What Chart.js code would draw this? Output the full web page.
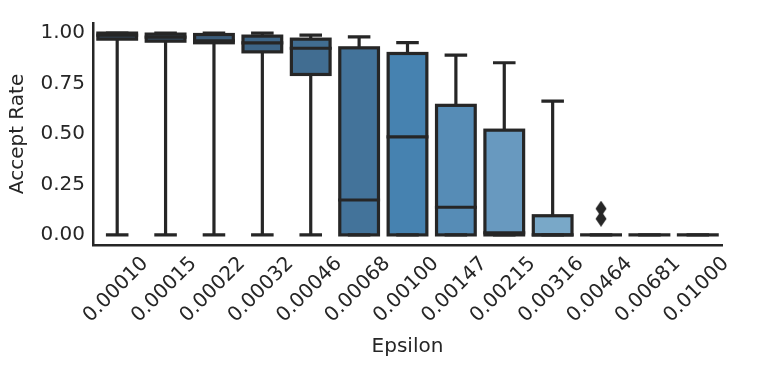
<!DOCTYPE html>
<html>
<head>
<meta charset="utf-8">
<script src="https://cdn.jsdelivr.net/npm/chart.js@4.4.0/dist/chart.umd.min.js"></script>
<style>
  html, body { margin: 0; padding: 0; background: #fff; }
</style>
</head>
<body>
<canvas id="chart" width="761" height="381"></canvas>
<script>
// valori (boxplot per epsilon)
const epsilons = ['0.00010', '0.00015', '0.00022', '0.00032', '0.00046', '0.00068', '0.00100',
                  '0.00147', '0.00215', '0.00316', '0.00464', '0.00681', '0.01000'];
const whiskerLow  = [0, 0, 0, 0, 0, 0, 0, 0, 0, 0, 0, 0, 0];
const q1          = [0.970, 0.960, 0.952, 0.907, 0.795, 0, 0, 0, 0, 0, 0, 0, 0];
const medians     = [0.990, 0.980, 0.962, 0.952, 0.925, 0.173, 0.486, 0.137, 0.010, 0, 0, 0, 0];
const q3          = [1.000, 0.995, 0.993, 0.985, 0.970, 0.927, 0.899, 0.642, 0.519, 0.095, 0, 0, 0];
const whiskerHigh = [1.000, 1.000, 1.000, 1.000, 0.990, 0.981, 0.953, 0.891, 0.853, 0.663, 0, 0, 0];
const outlierX = ['0.00464', '0.00464'];
const outlierY = [0.13, 0.08];
const yTicks = [0, 0.25, 0.5, 0.75, 1.0];

const boxColors = ['#35475a', '#38526a', '#3b5c7a', '#3d6587', '#416d91', '#43739a', '#4682b0',
                   '#568cb6', '#6899bf', '#79a8c8', '#8fb6cf', '#a1c2d7', '#b2cedf'];
const lineColor = '#262626';
const lineW = 3.2;
const font = { family: 'DejaVu Sans', size: 20 };

// marcatore a diamante sottile per gli outlier
const diamond = document.createElement('canvas');
diamond.width = 12;
diamond.height = 16;
const dctx = diamond.getContext('2d');
dctx.fillStyle = lineColor;
dctx.beginPath();
dctx.moveTo(6, 0);
dctx.lineTo(11.5, 8);
dctx.lineTo(6, 16);
dctx.lineTo(0.5, 8);
dctx.closePath();
dctx.fill();

// baffi, cappucci, bordi e mediane disegnati sopra le barre
const boxLines = {
  id: 'boxLines',
  afterDatasetsDraw(chart) {
    const ctx = chart.ctx;
    const y = chart.scales.y;
    const bars = chart.getDatasetMeta(0).data;
    ctx.save();
    ctx.strokeStyle = lineColor;
    ctx.lineWidth = lineW;
    bars.forEach((bar, i) => {
      const x = bar.x;
      const half = bar.width / 2;
      const yLo = y.getPixelForValue(whiskerLow[i]);
      const yQ1 = y.getPixelForValue(q1[i]);
      const yMed = y.getPixelForValue(medians[i]);
      const yQ3 = y.getPixelForValue(q3[i]);
      const yHi = y.getPixelForValue(whiskerHigh[i]);

      ctx.lineCap = 'butt';
      ctx.beginPath();
      ctx.moveTo(x, yQ3); ctx.lineTo(x, yHi);
      ctx.moveTo(x, yQ1); ctx.lineTo(x, yLo);
      ctx.stroke();

      ctx.lineCap = 'square';
      ctx.beginPath();
      ctx.moveTo(x - half / 2, yHi); ctx.lineTo(x + half / 2, yHi);
      ctx.moveTo(x - half / 2, yLo); ctx.lineTo(x + half / 2, yLo);
      ctx.stroke();

      ctx.lineJoin = 'miter';
      if (yQ1 - yQ3 > 0.5) {
        ctx.strokeRect(x - half, yQ3, half * 2, yQ1 - yQ3);
      }
      ctx.beginPath();
      ctx.moveTo(x - half, yMed); ctx.lineTo(x + half, yMed);
      ctx.stroke();
    });
    ctx.restore();
  }
};

const ctx = document.getElementById('chart').getContext('2d');
new Chart(ctx, {
  type: 'bar',
  data: {
    labels: epsilons,
    datasets: [{
      label: 'box',
      data: epsilons.map((_, i) => [q1[i], q3[i]]),
      backgroundColor: boxColors,
      borderWidth: 0,
      barPercentage: 0.8,
      categoryPercentage: 1.0
    }, {
      type: 'line',
      label: 'outliers',
      data: outlierX.map((x, i) => ({ x: x, y: outlierY[i] })),
      showLine: false,
      pointStyle: diamond,
      pointRadius: 6
    }]
  },
  options: {
    responsive: false,
    animation: false,
    devicePixelRatio: 1,
    layout: { padding: { top: 23, right: 39, left: 0, bottom: 0 } },
    plugins: {
      legend: { display: false },
      tooltip: { enabled: false }
    },
    scales: {
      x: {
        grid: { display: false, drawTicks: false },
        border: { display: true, color: lineColor, width: 2.5 },
        ticks: {
          color: '#262626', font: font,
          minRotation: 45, maxRotation: 45, autoSkip: false,
          labelOffset: 28, padding: 7
        },
        title: {
          display: true, text: 'Epsilon', color: '#262626', font: font,
          padding: { top: 0, bottom: 22 }
        },
        afterFit: s => { s.height = 136; }
      },
      y: {
        min: -0.05,
        max: 1.05,
        afterBuildTicks: s => { s.ticks = yTicks.map(v => ({ value: v })); },
        grid: { display: false, drawTicks: false },
        border: { display: true, color: lineColor, width: 2.5 },
        ticks: {
          color: '#262626', font: font, padding: 8,
          callback: v => v.toFixed(2)
        },
        title: {
          display: true, text: 'Accept Rate', color: '#262626', font: font,
          padding: { top: 6, bottom: 0 }
        },
        afterFit: s => { s.width = 93; }
      }
    }
  },
  plugins: [boxLines]
});
</script>
</body>
</html>
